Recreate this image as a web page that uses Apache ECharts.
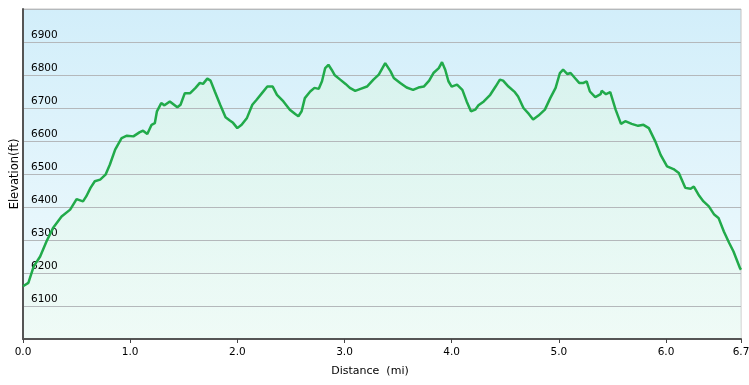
<!DOCTYPE html>
<html>
<head>
<meta charset="utf-8">
<script src="https://cdn.jsdelivr.net/npm/echarts@6/dist/echarts.min.js"></script>
<style>html,body{margin:0;padding:0;background:#fff}#c{width:749px;height:385px}</style>
</head>
<body>
<div id="c"></div>
<script>
const distanceMi = [0.00,0.05,0.10,0.16,0.22,0.28,0.36,0.44,0.50,0.56,0.59,0.63,0.67,0.72,0.77,0.81,0.86,0.92,0.97,1.03,1.09,1.12,1.16,1.20,1.23,1.25,1.29,1.32,1.37,1.44,1.47,1.51,1.56,1.61,1.65,1.68,1.72,1.75,1.79,1.84,1.89,1.93,1.96,2.00,2.04,2.09,2.14,2.18,2.23,2.28,2.33,2.37,2.43,2.49,2.54,2.57,2.60,2.63,2.68,2.72,2.76,2.79,2.82,2.85,2.88,2.91,2.96,3.01,3.05,3.10,3.15,3.21,3.27,3.32,3.38,3.43,3.46,3.52,3.58,3.64,3.69,3.74,3.79,3.83,3.88,3.91,3.94,3.97,4.00,4.05,4.10,4.14,4.18,4.22,4.25,4.30,4.36,4.41,4.45,4.48,4.53,4.59,4.62,4.67,4.72,4.76,4.81,4.87,4.92,4.97,5.01,5.04,5.08,5.11,5.15,5.19,5.23,5.26,5.29,5.34,5.39,5.40,5.44,5.48,5.53,5.58,5.62,5.68,5.74,5.79,5.84,5.90,5.95,6.01,6.07,6.12,6.18,6.23,6.26,6.31,6.35,6.40,6.45,6.49,6.54,6.59,6.63,6.69,6.70];
const elevationFt = [6160,6170,6220,6250,6296,6336,6371,6392,6424,6417,6432,6458,6478,6483,6498,6528,6574,6609,6616,6614,6627,6631,6621,6649,6654,6690,6715,6708,6720,6702,6710,6745,6745,6761,6776,6773,6789,6783,6750,6710,6672,6662,6655,6639,6649,6670,6710,6725,6745,6765,6765,6740,6720,6695,6682,6675,6690,6730,6750,6761,6758,6781,6821,6831,6816,6799,6786,6773,6761,6752,6758,6765,6786,6801,6836,6811,6791,6776,6762,6755,6762,6765,6783,6806,6821,6839,6816,6781,6765,6771,6755,6720,6690,6695,6708,6720,6740,6765,6786,6783,6765,6748,6735,6700,6682,6665,6677,6695,6730,6761,6806,6816,6803,6806,6791,6776,6776,6781,6750,6733,6742,6752,6742,6748,6695,6652,6660,6652,6646,6649,6639,6599,6558,6523,6515,6503,6458,6455,6462,6434,6417,6402,6377,6367,6326,6291,6265,6215,6210];
const xAxisTitle = 'Distance  (mi)';
const yAxisTitle = 'Elevation(ft)';

const points = distanceMi.map((d, i) => [d, elevationFt[i]]);
const font = 'DejaVu Sans, Verdana, sans-serif';
const chart = echarts.init(document.getElementById('c'), null, {renderer: 'canvas'});
chart.setOption({
  animation: false,
  backgroundColor: '#ffffff',
  grid: {
    left: 23, right: 8, top: 9, bottom: 46,
    outerBoundsMode: 'none', containLabel: false,
    show: true,
    borderColor: '#c4c4c4', borderWidth: 1,
    backgroundColor: new echarts.graphic.LinearGradient(0, 0, 0, 1, [
      {offset: 0, color: '#d2eefa'},
      {offset: 1, color: '#f2fbfd'}
    ])
  },
  xAxis: {
    type: 'value', min: 0, max: 6.7, interval: 1, z: 4,
    name: xAxisTitle, nameLocation: 'middle', nameGap: 27, nameMoveOverlap: false,
    nameTextStyle: {color: '#000', fontFamily: font, fontSize: 11, padding: [0, 24, 0, 0]},
    axisLine: {show: true, onZero: false, lineStyle: {color: '#555', width: 2}},
    axisTick: {show: true, length: 4, lineStyle: {color: '#444', width: 1}},
    axisLabel: {color: '#000', fontFamily: font, fontSize: 10.5, margin: 8,
      showMaxLabel: true, formatter: v => v.toFixed(1)},
    splitLine: {show: false}
  },
  yAxis: {
    type: 'value', min: 6000, max: 7000, interval: 100, z: 2,
    name: yAxisTitle, nameLocation: 'middle', nameGap: 2, nameMoveOverlap: false,
    nameTextStyle: {color: '#000', fontFamily: font, fontSize: 11.5},
    axisLine: {show: true, lineStyle: {color: '#555', width: 2}},
    axisTick: {show: false},
    axisLabel: {inside: true, color: '#000', fontFamily: font, fontSize: 10.5, margin: 8,
      verticalAlign: 'bottom', lineHeight: 14,
      formatter: v => (v === 6000 || v === 7000) ? '' : String(v)},
    splitLine: {show: true, lineStyle: {color: '#b4b8bb', width: 1}}
  },
  series: [{
    type: 'line', data: points, showSymbol: false, smooth: false, z: 1,
    lineStyle: {width: 0, opacity: 0},
    areaStyle: {
      origin: 'start',
      color: new echarts.graphic.LinearGradient(0, 0, 0, 1, [
        {offset: 0, color: '#d8f4e8'},
        {offset: 1, color: '#eefbf4'}
      ])
    }
  }, {
    type: 'line', data: points, showSymbol: false, smooth: false, z: 3,
    lineStyle: {color: '#21aa4a', width: 2.5}
  }]
});
</script>
</body>
</html>
